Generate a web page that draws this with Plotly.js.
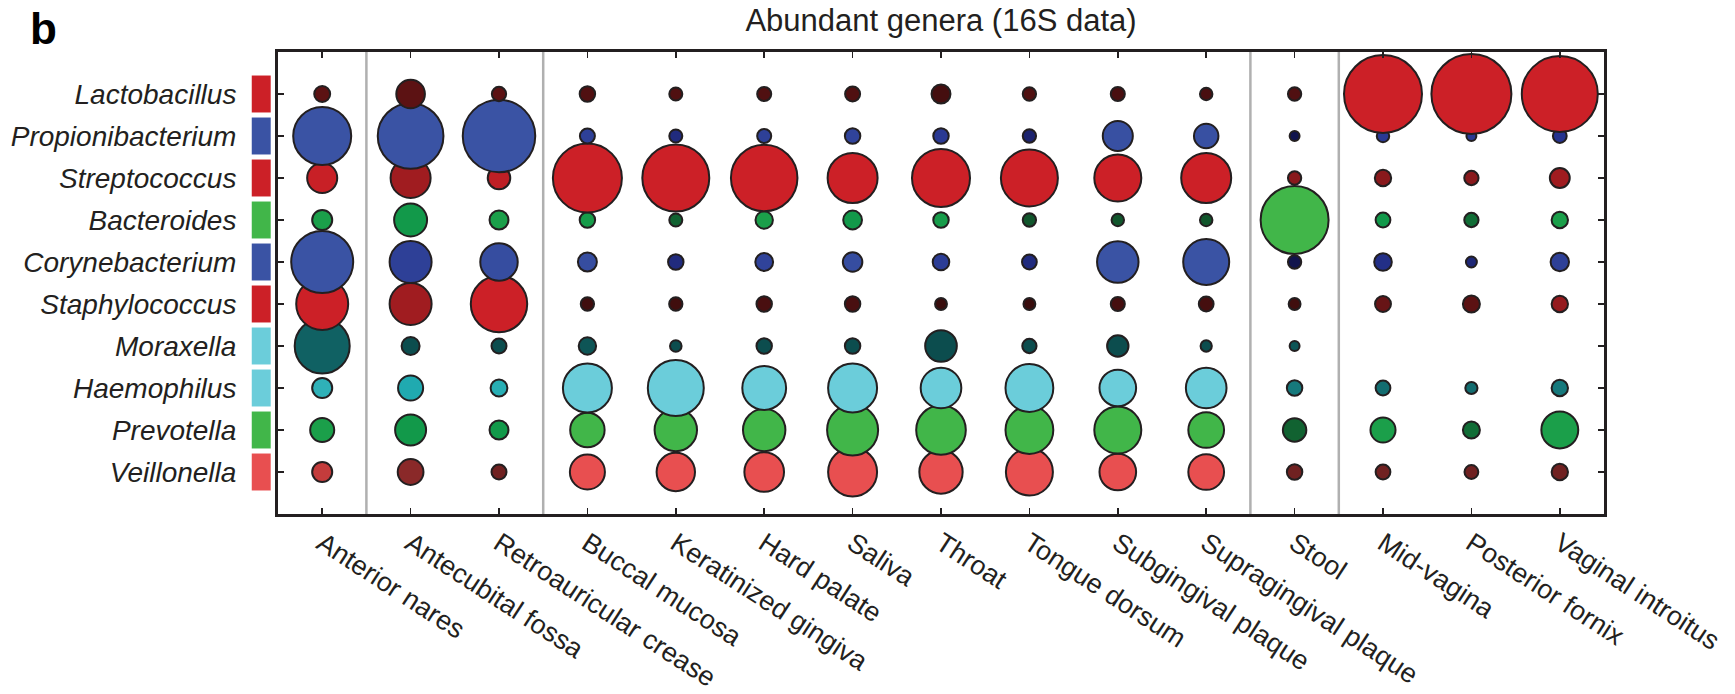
<!DOCTYPE html>
<html>
<head>
<meta charset="utf-8">
<script src="https://cdn.plot.ly/plotly-3.0.1.min.js"></script>
<style>html,body{margin:0;padding:0;background:#fff;}#chart{width:1735px;height:694px;}</style>
</head>
<body>
<div id="chart"></div>
<script>
// ---- data ----
const sites = ["Anterior nares","Antecubital fossa","Retroauricular crease","Buccal mucosa","Keratinized gingiva","Hard palate","Saliva","Throat","Tongue dorsum","Subgingival plaque","Supragingival plaque","Stool","Mid-vagina","Posterior fornix","Vaginal introitus"];
const siteGroups = ["Airways","Skin","Skin","Oral","Oral","Oral","Oral","Oral","Oral","Oral","Oral","Gut","Urogenital","Urogenital","Urogenital"];
const genera = ["Lactobacillus","Propionibacterium","Streptococcus","Bacteroides","Corynebacterium","Staphylococcus","Moraxella","Haemophilus","Prevotella","Veillonella"];
const generaColor = ["#cc2027","#3a53a4","#cc2027","#41b649","#3a53a4","#cc2027","#6bcdda","#6bcdda","#41b649","#e84f50"];

// relative abundance (%), bubble area proportional
const lactobacillus     = [3.6, 11.6, 2.9, 3.4, 2.4, 2.8, 3.2, 5.1, 2.5, 2.8, 2.2, 2.5, 86.2, 90.7, 81.9];
const propionibacterium = [47.7, 61.2, 74.5, 3.2, 2.4, 2.8, 3.4, 3.4, 2.5, 12.8, 8.5, 1.4, 2.2, 1.4, 2.7];
const streptococcus     = [12.8, 22.7, 7.2, 67.5, 63.6, 62.7, 35.4, 47.7, 46.0, 31.3, 35.4, 2.5, 3.8, 2.9, 5.6];
const bacteroides       = [5.7, 15.4, 5.1, 3.4, 2.4, 4.3, 5.0, 3.4, 2.5, 2.2, 2.2, 65.5, 3.1, 2.9, 3.8];
const corynebacterium   = [54.5, 25.0, 19.9, 5.1, 3.4, 4.5, 5.4, 3.9, 3.1, 24.4, 30.0, 2.5, 4.4, 1.7, 4.8];
const staphylococcus    = [38.3, 25.0, 45.1, 2.5, 2.5, 3.4, 3.4, 2.0, 2.0, 2.8, 3.1, 2.0, 3.6, 4.1, 3.8];
const moraxella         = [42.9, 4.6, 3.2, 4.3, 1.9, 3.4, 3.4, 14.2, 2.9, 6.5, 1.8, 1.4, null, null, null];
const haemophilus       = [5.7, 8.9, 4.0, 34.0, 44.4, 27.2, 34.0, 23.4, 32.4, 19.0, 23.4, 3.4, 3.1, 2.1, 3.8];
const prevotella        = [8.2, 13.6, 5.1, 16.8, 25.5, 25.5, 36.9, 34.9, 32.4, 31.3, 18.1, 7.8, 8.9, 4.1, 19.3];
const veillonella       = [5.7, 9.4, 3.2, 17.4, 20.9, 22.3, 34.0, 26.6, 31.3, 19.0, 18.1, 3.4, 3.1, 2.7, 3.8];

// colour intensity (0 = dark, 1 = full genus colour)
const lactobacillusShade     = [0.2, 0.2, 0.2, 0.15, 0.15, 0.15, 0.15, 0.1, 0.15, 0.12, 0.12, 0.15, 1, 1, 1];
const propionibacteriumShade = [1, 1, 1, 0.7, 0.4, 0.7, 0.75, 0.6, 0.3, 0.95, 0.95, 0.1, 0.6, 0.6, 0.5];
const streptococcusShade     = [0.95, 0.5, 0.85, 1, 1, 1, 1, 1, 1, 1, 1, 0.4, 0.4, 0.4, 0.5];
const bacteroidesShade       = [0.6, 0.5, 0.6, 0.55, 0.25, 0.6, 0.5, 0.55, 0.2, 0.2, 0.2, 1, 0.5, 0.3, 0.6];
const corynebacteriumShade   = [1, 0.7, 0.9, 0.9, 0.4, 0.75, 0.9, 0.65, 0.4, 1, 1, 0.1, 0.45, 0.35, 0.7];
const staphylococcusShade    = [1, 0.5, 1, 0.08, 0.08, 0.12, 0.12, 0.05, 0.05, 0.1, 0.1, 0.08, 0.25, 0.2, 0.45];
const moraxellaShade         = [0.2, 0.12, 0.12, 0.15, 0.12, 0.12, 0.12, 0.12, 0.12, 0.12, 0.12, 0.15, null, null, null];
const haemophilusShade       = [0.6, 0.5, 0.55, 1, 1, 1, 1, 1, 1, 1, 1, 0.3, 0.25, 0.25, 0.3];
const prevotellaShade        = [0.6, 0.5, 0.5, 1, 1, 1, 1, 1, 1, 1, 1, 0.25, 0.6, 0.3, 0.6];
const veillonellaShade       = [0.55, 0.3, 0.2, 1, 1, 1, 1, 1, 1, 1, 1, 0.2, 0.2, 0.2, 0.2];

const abundance = [lactobacillus, propionibacterium, streptococcus, bacteroides, corynebacterium, staphylococcus, moraxella, haemophilus, prevotella, veillonella];
const shades = [lactobacillusShade, propionibacteriumShade, streptococcusShade, bacteroidesShade, corynebacteriumShade, staphylococcusShade, moraxellaShade, haemophilusShade, prevotellaShade, veillonellaShade];

// ---- styling ----
const INK = "#231f20";
const scales = {
  "#cc2027": [[0, "#2e0b0b"], [0.5, "#a01c20"], [1, "#cc2027"]],
  "#3a53a4": [[0, "#0c0c3c"], [0.5, "#26338f"], [1, "#3a53a4"]],
  "#41b649": [[0, "#102a18"], [0.5, "#12994a"], [1, "#41b649"]],
  "#6bcdda": [[0, "#06302f"], [0.5, "#20aab0"], [1, "#6bcdda"]],
  "#e84f50": [[0, "#3a1010"], [0.5, "#c03a3a"], [1, "#e84f50"]]
};

const traces = [];
for (let g = genera.length - 1; g >= 0; g--) {
  const xs = [], ys = [], ss = [], cs = [];
  sites.forEach((s, i) => {
    const v = abundance[g][i];
    if (v === null || v === undefined) return;
    xs.push(s); ys.push(genera[g]); ss.push(v); cs.push(shades[g][i]);
  });
  traces.push({
    type: "scatter", mode: "markers", name: genera[g],
    x: xs, y: ys, cliponaxis: false, hoverinfo: "x+y",
    marker: {
      size: ss, sizemode: "area", sizeref: 2 / 70.56, sizemin: 4,
      color: cs, cmin: 0, cmax: 1, colorscale: scales[generaColor[g]], showscale: false,
      line: { color: INK, width: 2 }, opacity: 1
    }
  });
}

const shapes = [];
// group dividers
for (let i = 1; i < sites.length; i++) {
  if (siteGroups[i] !== siteGroups[i - 1]) {
    shapes.push({ type: "line", xref: "x", yref: "paper", x0: i - 0.5, x1: i - 0.5, y0: 0, y1: 1,
      line: { color: "#b0b0b0", width: 2.5 }, layer: "below" });
  }
}
// genus colour boxes
genera.forEach((g, i) => {
  shapes.push({ type: "rect", xref: "paper", yref: "y", x0: -0.0198, x1: -0.0055, y0: i - 0.44, y1: i + 0.44,
    fillcolor: generaColor[i], line: { width: 0 }, layer: "above" });
});

const layout = {
  width: 1735, height: 694,
  margin: { l: 278, r: 131, t: 52, b: 180 },
  paper_bgcolor: "#ffffff", plot_bgcolor: "#ffffff",
  font: { family: "Liberation Sans, Arial, Helvetica, sans-serif", color: INK },
  showlegend: false,
  title: { text: "Abundant genera (16S data)", font: { size: 31, color: INK },
    xref: "paper", x: 0.5, xanchor: "center", yref: "container", y: 0.971, yanchor: "middle" },
  xaxis: {
    type: "category", categoryorder: "array", categoryarray: sites, range: [-0.5, 14.5],
    showline: true, linewidth: 3, linecolor: INK, mirror: "ticks",
    ticks: "inside", ticklen: 6, tickwidth: 1.5, tickcolor: INK,
    tickangle: 33, tickfont: { size: 27, color: INK },
    showgrid: false, zeroline: false, fixedrange: true
  },
  yaxis: {
    type: "category", categoryorder: "array", categoryarray: genera, range: [10, -1],
    showline: true, linewidth: 3, linecolor: INK, mirror: "ticks",
    ticks: "inside", ticklen: 6, tickwidth: 1.5, tickcolor: INK,
    tickfont: { size: 28, color: INK, style: "italic" }, ticklabelstandoff: 33,
    showgrid: false, zeroline: false, fixedrange: true
  },
  shapes: shapes,
  annotations: [{
    text: "<b>b</b>", xref: "paper", yref: "paper", x: -0.1885, y: 1.108,
    xanchor: "left", yanchor: "top", showarrow: false,
    font: { size: 44, color: "#000000", family: "Liberation Sans, Arial, sans-serif" }
  }]
};

Plotly.newPlot("chart", traces, layout, { displayModeBar: false, staticPlot: true });
</script>
</body>
</html>
